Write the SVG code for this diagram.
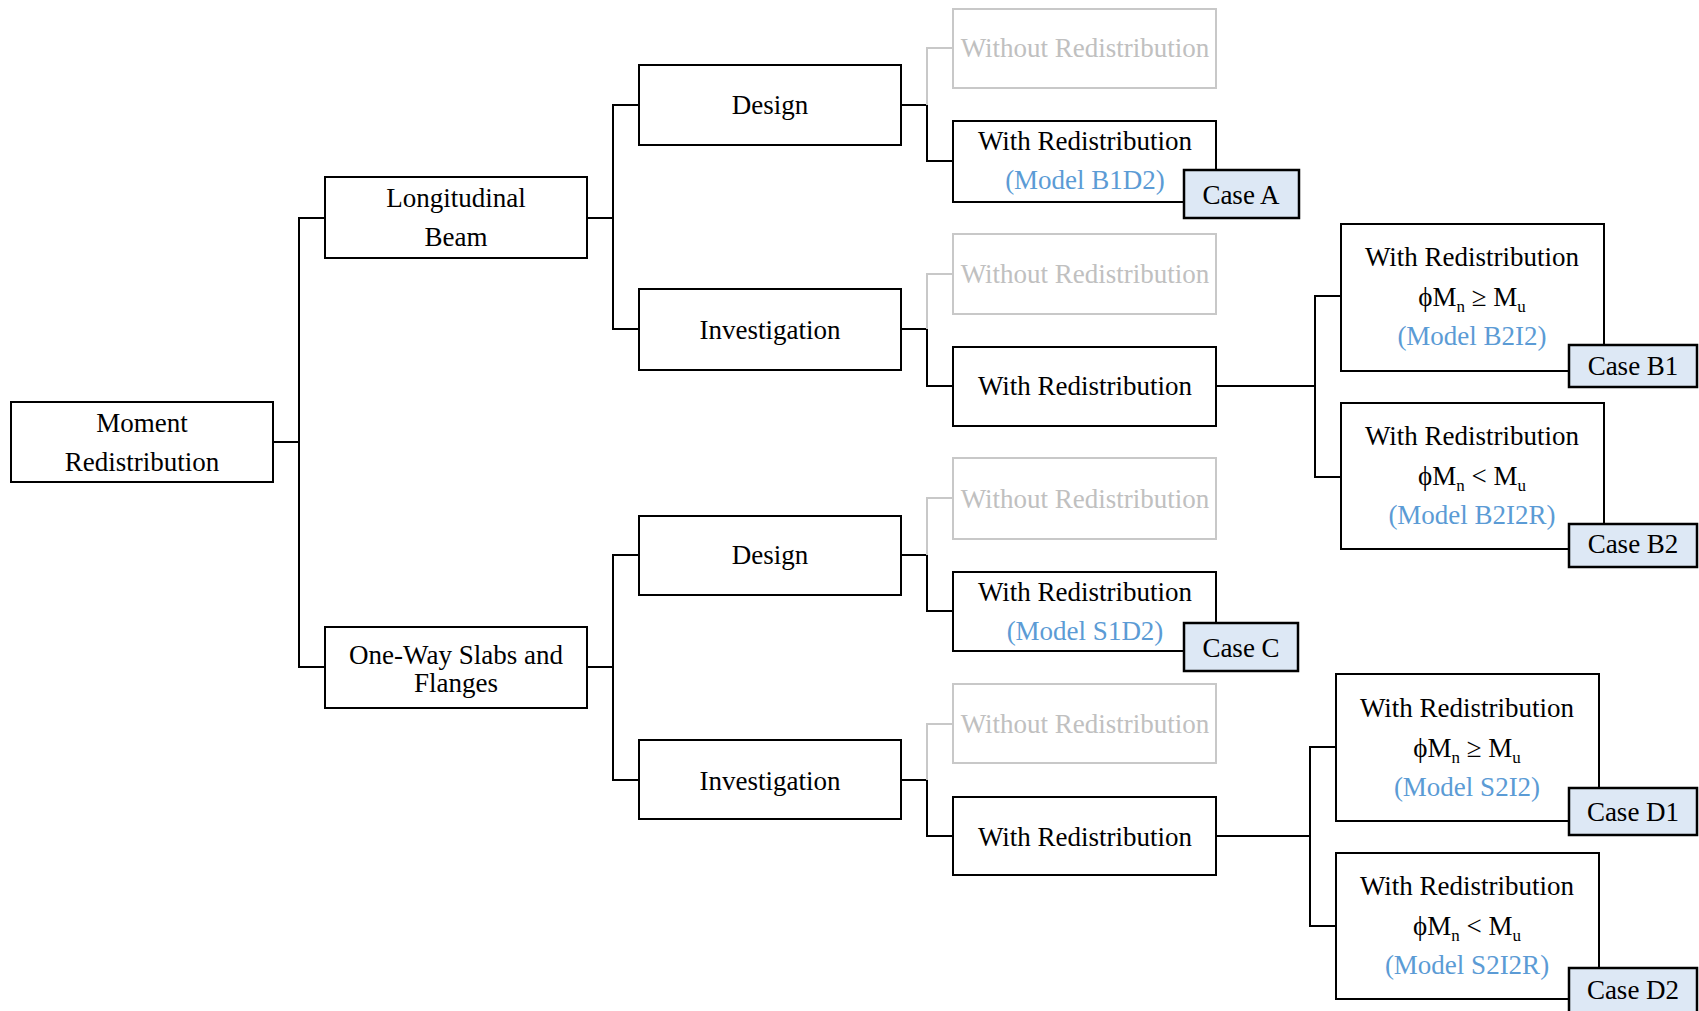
<svg xmlns="http://www.w3.org/2000/svg" width="1699" height="1011" viewBox="0 0 1699 1011">
<style>
.box{fill:#fff;stroke:#000;stroke-width:2}
.gbox{fill:#fff;stroke:#c8c8c8;stroke-width:2}
.case{fill:#dde8f5;stroke:#000;stroke-width:2.5}
.t{font-family:"Liberation Serif","Times New Roman",serif;font-size:27px;fill:#000;text-anchor:middle}
.g{fill:#c0c0c0}
.b{fill:#5b9bd5}
.c{fill:none;stroke:#000;stroke-width:2}
.cg{fill:none;stroke:#c8c8c8;stroke-width:2}
.s{font-size:17px}
</style>
<rect width="1699" height="1011" fill="#fff"/>
<g id="connectors">
<path class="c" d="M273 442H299M325 218H299V667H325"/>
<path class="c" d="M587 218H613M639 105H613V329H639"/>
<path class="c" d="M587 667H613M639 555H613V780H639"/>
<path class="c" d="M901 105H927V161H953"/>
<path class="cg" d="M927 105V48H953"/>
<path class="c" d="M901 329H927V386H953"/>
<path class="cg" d="M927 329V274H953"/>
<path class="c" d="M901 555H927V611H953"/>
<path class="cg" d="M927 555V498H953"/>
<path class="c" d="M901 780H927V836H953"/>
<path class="cg" d="M927 780V724H953"/>
<path class="c" d="M1216 386H1315M1341 296H1315V477H1341"/>
<path class="c" d="M1216 836H1310M1336 747H1310V926H1336"/>
</g>
<g id="moment"><rect class="box" x="11" y="402" width="262" height="80"/><text class="t" x="142" y="432">Moment</text><text class="t" x="142" y="471">Redistribution</text></g>
<g id="beam"><rect class="box" x="325" y="177" width="262" height="81"/><text class="t" x="456" y="207">Longitudinal</text><text class="t" x="456" y="246">Beam</text></g>
<g id="slabs"><rect class="box" x="325" y="627" width="262" height="81"/><text class="t" x="456" y="664">One-Way Slabs and</text><text class="t" x="456" y="692">Flanges</text></g>
<g id="design1"><rect class="box" x="639" y="65" width="262" height="80"/><text class="t" x="770" y="114">Design</text></g>
<g id="invest1"><rect class="box" x="639" y="289" width="262" height="81"/><text class="t" x="770" y="339">Investigation</text></g>
<g id="design2"><rect class="box" x="639" y="516" width="262" height="79"/><text class="t" x="770" y="564">Design</text></g>
<g id="invest2"><rect class="box" x="639" y="740" width="262" height="79"/><text class="t" x="770" y="790">Investigation</text></g>
<g id="without1"><rect class="gbox" x="953" y="9" width="263" height="79"/><text class="t g" x="1085" y="57">Without Redistribution</text></g>
<g id="with1"><rect class="box" x="953" y="121" width="263" height="81"/><text class="t" x="1085" y="150">With Redistribution</text><text class="t b" x="1085" y="189">(Model B1D2)</text></g>
<g id="caseA"><rect class="case" x="1184" y="170" width="115" height="48"/><text class="t" x="1241" y="204">Case A</text></g>
<g id="without2"><rect class="gbox" x="953" y="234" width="263" height="80"/><text class="t g" x="1085" y="283">Without Redistribution</text></g>
<g id="with2"><rect class="box" x="953" y="347" width="263" height="79"/><text class="t" x="1085" y="395">With Redistribution</text></g>
<g id="without3"><rect class="gbox" x="953" y="458" width="263" height="81"/><text class="t g" x="1085" y="508">Without Redistribution</text></g>
<g id="with3"><rect class="box" x="953" y="572" width="263" height="79"/><text class="t" x="1085" y="601">With Redistribution</text><text class="t b" x="1085" y="640">(Model S1D2)</text></g>
<g id="caseC"><rect class="case" x="1184" y="623" width="114" height="48"/><text class="t" x="1241" y="657">Case C</text></g>
<g id="without4"><rect class="gbox" x="953" y="684" width="263" height="79"/><text class="t g" x="1085" y="733">Without Redistribution</text></g>
<g id="with4"><rect class="box" x="953" y="797" width="263" height="78"/><text class="t" x="1085" y="846">With Redistribution</text></g>
<g id="b1"><rect class="box" x="1341" y="224" width="263" height="147"/><text class="t" x="1472" y="266">With Redistribution</text><text class="t" x="1472" y="306">ϕM<tspan class="s" dy="6">n</tspan><tspan dy="-6"> ≥ M</tspan><tspan class="s" dy="6">u</tspan></text><text class="t b" x="1472" y="345">(Model B2I2)</text></g>
<g id="caseB1"><rect class="case" x="1569" y="345" width="128" height="42"/><text class="t" x="1633" y="375">Case B1</text></g>
<g id="b2"><rect class="box" x="1341" y="403" width="263" height="146"/><text class="t" x="1472" y="445">With Redistribution</text><text class="t" x="1472" y="485">ϕM<tspan class="s" dy="6">n</tspan><tspan dy="-6"> &lt; M</tspan><tspan class="s" dy="6">u</tspan></text><text class="t b" x="1472" y="524">(Model B2I2R)</text></g>
<g id="caseB2"><rect class="case" x="1569" y="524" width="128" height="43"/><text class="t" x="1633" y="553">Case B2</text></g>
<g id="d1"><rect class="box" x="1336" y="674" width="263" height="147"/><text class="t" x="1467" y="717">With Redistribution</text><text class="t" x="1467" y="757">ϕM<tspan class="s" dy="6">n</tspan><tspan dy="-6"> ≥ M</tspan><tspan class="s" dy="6">u</tspan></text><text class="t b" x="1467" y="796">(Model S2I2)</text></g>
<g id="caseD1"><rect class="case" x="1569" y="788" width="128" height="47"/><text class="t" x="1633" y="821">Case D1</text></g>
<g id="d2"><rect class="box" x="1336" y="853" width="263" height="146"/><text class="t" x="1467" y="895">With Redistribution</text><text class="t" x="1467" y="935">ϕM<tspan class="s" dy="6">n</tspan><tspan dy="-6"> &lt; M</tspan><tspan class="s" dy="6">u</tspan></text><text class="t b" x="1467" y="974">(Model S2I2R)</text></g>
<g id="caseD2"><rect class="case" x="1569" y="968" width="128" height="50"/><text class="t" x="1633" y="999">Case D2</text></g>
</svg>
